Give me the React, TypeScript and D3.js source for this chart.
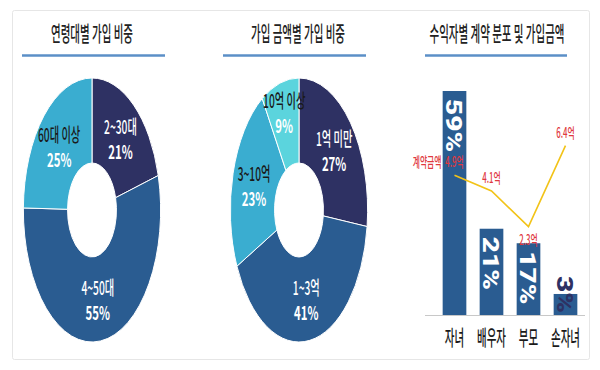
import React from 'react';
import * as d3 from 'd3';

// chart data
const titles = ['연령대별 가입 비중', '가입 금액별 가입 비중', '수익자별 계약 분포 및 가입금액'];
const ageGroups = ['2~30대', '4~50대', '60대 이상'];
const agePct = [21, 55, 25];
const amountGroups = ['1억 미만', '1~3억', '3~10억', '10억 이상'];
const amountPct = [27, 41, 23, 9];
const beneficiaries = ['자녀', '배우자', '부모', '손자녀'];
const beneficiaryPct = [59, 21, 17, 3];
const contractAmount = [4.9, 4.1, 2.3, 6.4];
const lineName = '계약금액';

const KR = "'Noto Sans CJK KR', 'Noto Sans', sans-serif";
const NAVY = '#2e3163';
const MID = '#2a5c91';
const LIGHT = '#3aadd0';
const CYAN = '#5bd4dd';
const RED = '#e0393e';

// the picture is squeezed horizontally, so text is too
function Sq({ x, y, sx = 0.55, children, ...rest }: any) {
  return (
    <text
      transform={`translate(${x},${y}) scale(${sx},1)`}
      textAnchor="middle"
      dominantBaseline="central"
      fontFamily={KR}
      fontWeight={500}
      {...rest}
    >
      {children}
    </text>
  );
}

function Donut({ cx, cy, labels, values, colors, nameColors }: any) {
  const R = 132, r0 = 47, SX = 0.52;
  const arcs = d3.pie<number>().sort(null).value(d => d)(values);
  const arc = d3.arc<d3.PieArcDatum<number>>().innerRadius(r0).outerRadius(R);
  return (
    <g>
      <g transform={`translate(${cx},${cy}) scale(${SX},1)`}>
        {arcs.map((a, i) => (
          <path key={i} d={arc(a) || ''} fill={colors[i]} stroke="#fff" strokeWidth={1} vectorEffect="non-scaling-stroke" />
        ))}
      </g>
      {arcs.map((a, i) => {
        const lr = values[i] < 12 ? 102 : 90;
        const [lx, ly] = d3.arc<d3.PieArcDatum<number>>().innerRadius(lr).outerRadius(lr).centroid(a);
        const x = cx + lx * SX, y = cy + ly;
        return (
          <g key={i}>
            <Sq x={x} y={y - 13} sx={0.54} fontSize={19} fill={nameColors[i]}>{labels[i]}</Sq>
            <Sq x={x} y={y + 13} sx={0.6} fontSize={19} fontWeight={700} fill="#fff">{values[i]}%</Sq>
          </g>
        );
      })}
    </g>
  );
}

function Bars() {
  const x = d3.scaleBand().domain(beneficiaries).range([436, 584]).paddingInner(0.36).paddingOuter(0.18);
  const y = d3.scaleLinear().domain([-2.8, 59]).range([315, 91]);
  const ya = d3.scaleLinear().domain([0, 8]).range([272, 114]);
  const cx = (c: string) => (x(c) as number) + x.bandwidth() / 2;
  const line = d3.line<number>()
    .x((d, i) => cx(beneficiaries[i]))
    .y(d => ya(d));
  const base = y(-2.8);
  // a label goes under the point where the line dips below both neighbours
  const dip = (i: number) => i > 0 && i < contractAmount.length - 1 &&
    contractAmount[i] < contractAmount[i - 1] && contractAmount[i] < contractAmount[i + 1];
  return (
    <g>
      <line x1={425} x2={585} y1={base + 0.5} y2={base + 0.5} stroke="#c8c8c8" />
      {beneficiaries.map((c, i) => {
        const v = beneficiaryPct[i];
        const top = y(v);
        const small = base - top < 40;
        return (
          <g key={c}>
            <rect x={x(c)} y={top} width={x.bandwidth()} height={base - top} fill={MID} />
            <text
              transform={small
                ? `translate(${cx(c)},${base - 2}) rotate(90) scale(1,0.8)`
                : `translate(${cx(c)},${top + 8}) rotate(90) scale(1,0.8)`}
              textAnchor={small ? 'end' : 'start'}
              dy="0.36em"
              fontFamily="Roboto, 'DejaVu Sans', sans-serif"
              fontWeight={900}
              fontSize={28}
              fill={small ? NAVY : '#fff'}
            >
              {v}%
            </text>
            <Sq x={cx(c)} y={336} sx={0.5} fontSize={21} fill="#1a1a1a">{c}</Sq>
          </g>
        );
      })}
      <path d={line(contractAmount) || ''} fill="none" stroke="#f2c318" strokeWidth={1.6} />
      {contractAmount.map((v, i) => (
        <Sq key={i} x={cx(beneficiaries[i])} y={ya(v) + (dip(i) ? 12 : -14)} sx={0.56} fontSize={14} fill={RED}>{v}억</Sq>
      ))}
      <Sq x={cx(beneficiaries[0]) - 13} y={ya(contractAmount[0]) - 14} sx={0.56} fontSize={14} fill={RED} textAnchor="end">
        {lineName}
      </Sq>
    </g>
  );
}

export default function App() {
  const heads = [
    { cx: 92, x1: 22, x2: 165 },
    { cx: 298, x1: 223, x2: 366 },
    { cx: 497, x1: 425, x2: 567 },
  ];
  return (
    <svg width={600} height={370} style={{ position: 'absolute', left: 0, top: 0, background: '#fff' }}>
      <rect x={12.5} y={10.5} width={577} height={349} fill="none" stroke="#e6e6e6" rx={2} />
      {heads.map((h, i) => (
        <g key={i}>
          <Sq x={h.cx} y={32} sx={0.5} fontSize={21} fill="#222">{titles[i]}</Sq>
          <line x1={h.x1} x2={h.x2} y1={55.5} y2={55.5} stroke="#5b8fc7" strokeWidth={2.5} />
        </g>
      ))}
      <Donut cx={92} cy={210} labels={ageGroups} values={agePct}
        colors={[NAVY, MID, LIGHT]} nameColors={['#fff', '#fff', '#1a1a1a']} />
      <Donut cx={299} cy={210} labels={amountGroups} values={amountPct}
        colors={[NAVY, MID, LIGHT, CYAN]} nameColors={['#fff', '#fff', '#1a1a1a', '#1a1a1a']} />
      <Bars />
    </svg>
  );
}
